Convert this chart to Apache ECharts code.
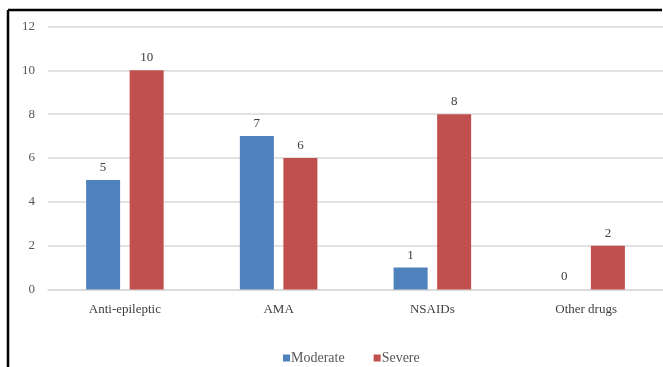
<!DOCTYPE html>
<html>
<head>
<meta charset="utf-8">
<script src="https://cdn.jsdelivr.net/npm/echarts@6/dist/echarts.min.js"></script>
<style>
html,body{margin:0;padding:0;background:#fff;}
#chart{width:663px;height:367px;}
</style>
</head>
<body>
<div id="chart"></div>
<script>
const categories = ["Anti-epileptic", "AMA", "NSAIDs", "Other drugs"];
const moderate = [5, 7, 1, 0];
const severe = [10, 6, 8, 2];
const yTicks = [0, 2, 4, 6, 8, 10, 12];

const chart = echarts.init(document.getElementById('chart'));
const font = "'Liberation Serif', 'DejaVu Serif', serif";
const labelStyle = {show: true, position: 'top', distance: 6, color: '#404040', fontFamily: font, fontSize: 13};
chart.setOption({
  animation: false,
  backgroundColor: '#ffffff',
  textStyle: {fontFamily: font},
  grid: {left: 48, right: -2, top: 26.5, bottom: 77.5},
  legend: {
    top: 346,
    left: 278,
    itemWidth: 7,
    itemHeight: 7,
    itemGap: 29,
    icon: 'rect',
    textStyle: {color: '#595959', fontFamily: font, fontSize: 14, padding: [0, 0, 0, -4]},
    data: ['Moderate', 'Severe']
  },
  xAxis: {
    type: 'category',
    data: categories,
    axisLine: {show: true, lineStyle: {color: '#d9d9d9', width: 1.5}},
    axisTick: {show: false},
    axisLabel: {color: '#404040', fontFamily: font, fontSize: 13, margin: 14}
  },
  yAxis: {
    type: 'value',
    min: yTicks[0],
    max: yTicks[yTicks.length - 1],
    interval: 2,
    axisLine: {show: false},
    axisTick: {show: false},
    splitLine: {lineStyle: {color: '#d9d9d9', width: 1.5}},
    axisLabel: {color: '#595959', fontFamily: font, fontSize: 13, margin: 13}
  },
  series: [
    {name: 'Moderate', type: 'bar', data: moderate, barWidth: 34, barGap: '28%',
     itemStyle: {color: '#4f81bd'}, label: labelStyle},
    {name: 'Severe', type: 'bar', data: severe, barWidth: 34,
     itemStyle: {color: '#c0504d'}, label: labelStyle}
  ],
  graphic: [
    {type: 'line', shape: {x1: 8, y1: 10, x2: 662, y2: 10}, style: {stroke: '#000', lineWidth: 2.5}, z: 100},
    {type: 'line', shape: {x1: 8, y1: 10, x2: 8, y2: 367}, style: {stroke: '#000', lineWidth: 2.5}, z: 100}
  ]
});
</script>
</body>
</html>
